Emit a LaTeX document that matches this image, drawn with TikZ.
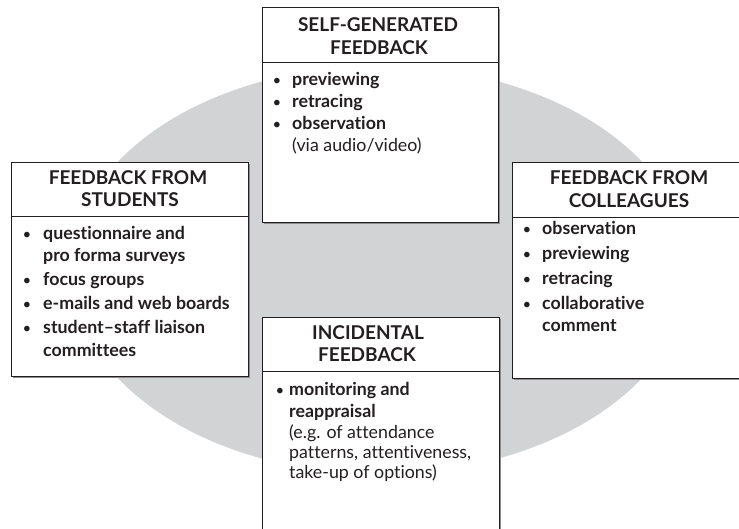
\documentclass[tikz,border=0pt]{standalone}
\usepackage{fontspec}
\setmainfont{Lato}[Ligatures={NoCommon}]
\usetikzlibrary{shadows}
\definecolor{ink}{HTML}{231F20}
\definecolor{oval}{HTML}{D1D3D4}
\begin{document}
\begin{tikzpicture}[x=1pt,y=-1pt,
  box/.style={draw=ink, line width=0.9pt, fill=white, inner sep=0pt, outer sep=0pt,
    drop shadow={shadow xshift=1.6pt, shadow yshift=-1.6pt, fill=black!45, opacity=1}},
  sep/.style={draw=ink, line width=0.9pt},
  ttl/.style={font=\bfseries\fontsize{19}{21}\selectfont, text=ink, anchor=base, inner sep=0pt},
  itm/.style={font=\bfseries\fontsize{17.8}{21}\selectfont, text=ink, anchor=base west, inner sep=0pt},
  note/.style={font=\fontsize{17.8}{21}\selectfont, text=ink, anchor=base west, inner sep=0pt},
  bul/.style={font=\fontsize{15}{21}\selectfont, text=ink, anchor=base, inner sep=0pt}
]
\useasboundingbox (0,0) rectangle (739,529);
\clip (0,0) rectangle (739,529);
\fill[oval] (380,270) ellipse [x radius=309pt, y radius=204pt];

% boxes
\node[box, minimum width=236pt, minimum height=215pt, anchor=north west] (topbox) at (262,7) {};
\node[box, minimum width=237pt, minimum height=214pt, anchor=north west] (leftbox) at (11,162) {};
\node[box, minimum width=233pt, minimum height=216pt, anchor=north west] (rightbox) at (512,162) {};
\node[box, minimum width=237pt, minimum height=230pt, anchor=north west] (botbox) at (262,317) {};

\draw[sep] ([yshift=-55pt]topbox.north west) -- ([yshift=-55pt]topbox.north east);
\draw[sep] ([yshift=-54pt]leftbox.north west) -- ([yshift=-54pt]leftbox.north east);
\draw[sep] ([yshift=-55pt]rightbox.north west) -- ([yshift=-55pt]rightbox.north east);
\draw[sep] ([yshift=-54pt]botbox.north west) -- ([yshift=-54pt]botbox.north east);

% top box
\node[ttl] (tt1) at (378,32) {SELF-GENERATED};
\node[ttl] (tt2) at (379,55) {FEEDBACK};
\node[bul] (tb1) at (277,86) {\textbullet};
\node[bul] (tb2) at (277,108) {\textbullet};
\node[bul] (tb3) at (277,130) {\textbullet};
\node[itm] (ti1) at (292,86) {previewing};
\node[itm] (ti2) at (292,108) {retracing};
\node[itm] (ti3) at (292,130) {observation};
\node[note] (tn1) at (292,152) {(via audio/video)};

% left box
\node[ttl] (lt1) at (128,185) {FEEDBACK FROM};
\node[ttl] (lt2) at (130,207) {STUDENTS};
\node[bul] (lb1) at (27,240) {\textbullet};
\node[bul] (lb2) at (27,286) {\textbullet};
\node[bul] (lb3) at (27,310) {\textbullet};
\node[bul] (lb4) at (27,334) {\textbullet};
\node[itm] (li1) at (43,240) {questionnaire and};
\node[itm] (li2) at (43,262) {pro forma surveys};
\node[itm] (li3) at (43,286) {focus groups};
\node[itm] (li4) at (43,310) {e-mails and web boards};
\node[itm] (li5) at (43,334) {student–staff liaison};
\node[itm] (li6) at (43,356) {committees};

% right box
\node[ttl] (rt1) at (629,185) {FEEDBACK FROM};
\node[ttl] (rt2) at (629,208) {COLLEAGUES};
\node[bul] (rb1) at (527,235) {\textbullet};
\node[bul] (rb2) at (527,260) {\textbullet};
\node[bul] (rb3) at (527,285) {\textbullet};
\node[bul] (rb4) at (527,310) {\textbullet};
\node[itm] (ri1) at (542,235) {observation};
\node[itm] (ri2) at (542,260) {previewing};
\node[itm] (ri3) at (542,285) {retracing};
\node[itm] (ri4) at (542,310) {collaborative};
\node[itm] (ri5) at (542,332) {comment};

% bottom box
\node[ttl] (bt1) at (368,339) {INCIDENTAL};
\node[ttl] (bt2) at (367,362) {FEEDBACK};
\node[bul] (bb1) at (280,395) {\textbullet};
\node[itm] (bi1) at (289,395) {monitoring and};
\node[itm] (bi2) at (289,417) {reappraisal};
\node[note] (bn1) at (289,438) {(e.g. of attendance};
\node[note] (bn2) at (289,458) {patterns, attentiveness,};
\node[note] (bn3) at (289,478) {take-up of options)};
\end{tikzpicture}
\end{document}
